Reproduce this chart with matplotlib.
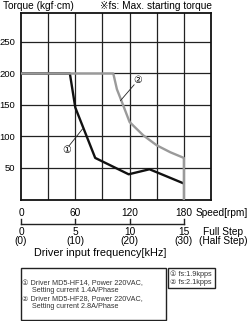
import matplotlib
matplotlib.use("Agg")
import matplotlib.pyplot as plt
from matplotlib.patches import Rectangle
from matplotlib.transforms import blended_transform_factory

plt.rcParams["font.family"] = ["Liberation Sans", "DejaVu Sans", "Noto Sans CJK JP"]

# curve 1: driver MD5-HF14 (black)
speed_1 = [0, 54, 60, 82, 119, 142, 179]
torque_1 = [200, 200, 146, 66, 40, 48, 26]
# curve 2: driver MD5-HF28 (gray)
speed_2 = [0, 102, 106, 112, 120, 135, 150, 165, 180, 180]
torque_2 = [200, 200, 175, 153, 123, 102, 86, 75, 66, 0]

y_ticks = [50, 100, 150, 200, 250]
x_grid = [30, 60, 90, 120, 150, 180]
speed_ticks = [0, 60, 120, 180]
full_step = ["0", "5", "10", "15"]
half_step = ["(0)", "(10)", "(20)", "(30)"]

legend_left = [
    "\u2460 Driver MD5-HF14, Power 220VAC,",
    "     Setting current 1.4A/Phase",
    "\u2461 Driver MD5-HF28, Power 220VAC,",
    "     Setting current 2.8A/Phase",
]
legend_right = ["\u2460 fs:1.9kpps", "\u2461 fs:2.1kpps"]

W, H = 250, 321
fig = plt.figure(figsize=(W / 100, H / 100), dpi=100)
ax = fig.add_axes([21 / W, 1 - 199.5 / H, 190 / W, 186.5 / H])
ax.set_xlim(0, 210)
ax.set_ylim(0, 296)

for x in x_grid:
    ax.axvline(x, color="#222222", lw=0.9, zorder=1)
for y in y_ticks:
    ax.axhline(y, color="#222222", lw=0.9, zorder=1)

ax.plot(speed_1, torque_1, color="#111111", lw=1.7, zorder=3)
ax.plot(speed_2, torque_2, color="#9a9a9a", lw=1.7, zorder=4)

# circled curve labels with leader lines
ax.plot([53, 68], [85, 112], color="#222222", lw=0.6, zorder=5)
ax.text(50, 78, "\u2460", fontsize=7, ha="center", va="center", zorder=6)
ax.plot([125, 110], [182, 157], color="#222222", lw=0.6, zorder=5)
ax.text(129, 189, "\u2461", fontsize=7, ha="center", va="center", zorder=6)

ax.set_xticks([])
ax.set_yticks(y_ticks)
ax.set_yticklabels([str(v) for v in y_ticks], fontsize=6.8)
ax.tick_params(axis="y", length=0, pad=4)
for s in ax.spines.values():
    s.set_linewidth(1.3)
    s.set_color("#111111")

fig.text(3 / W, 1 - 6 / H, "Torque (kgf\u00b7cm)", fontsize=7.3, ha="left", va="center")
fig.text(212 / W, 1 - 6 / H, "\u203bfs: Max. starting torque", fontsize=7.3,
         ha="right", va="center")

# lower scale: speed / driver input frequency
tr = blended_transform_factory(ax.transData, fig.transFigure)
line_y = 1 - 224 / H
tick_y = 1 - 219 / H
ax.plot([0, 180], [line_y, line_y], color="#222222", lw=1.0, transform=tr, clip_on=False)
for i, sp in enumerate(speed_ticks):
    ax.plot([sp, sp], [line_y, tick_y], color="#222222", lw=1.0, transform=tr, clip_on=False)
    ax.text(sp, 1 - 213 / H, str(sp), fontsize=7.3, ha="center", va="center", transform=tr)
    ax.text(sp, 1 - 232 / H, full_step[i], fontsize=7.3, ha="center", va="center", transform=tr)
    ax.text(sp, 1 - 241.5 / H, half_step[i], fontsize=7.3, ha="center", va="center", transform=tr)
fig.text(196 / W, 1 - 213 / H, "Speed[rpm]", fontsize=7.3, ha="left", va="center")
fig.text(223 / W, 1 - 232 / H, "Full Step", fontsize=7.3, ha="center", va="center")
fig.text(223 / W, 1 - 241.5 / H, "(Half Step)", fontsize=7.3, ha="center", va="center")
fig.text(100 / W, 1 - 253 / H, "Driver input frequency[kHz]", fontsize=7.8,
         ha="center", va="center")

# note boxes
fig.patches.append(Rectangle((21 / W, 1 - 320 / H), 145 / W, 52 / H, fill=False,
                             ec="#222222", lw=1.0, transform=fig.transFigure))
fig.patches.append(Rectangle((168 / W, 1 - 288 / H), 47 / W, 20 / H, fill=False,
                             ec="#222222", lw=1.0, transform=fig.transFigure))
for txt, yy in zip(legend_left, [284, 291, 299, 306.5]):
    fig.text(22 / W, 1 - yy / H, txt, fontsize=5.2, color="#333333", ha="left", va="center")
for txt, yy in zip(legend_right, [274, 282]):
    fig.text(170 / W, 1 - yy / H, txt, fontsize=5.2, color="#333333", ha="left", va="center")

fig.savefig("out.png", dpi=100)
